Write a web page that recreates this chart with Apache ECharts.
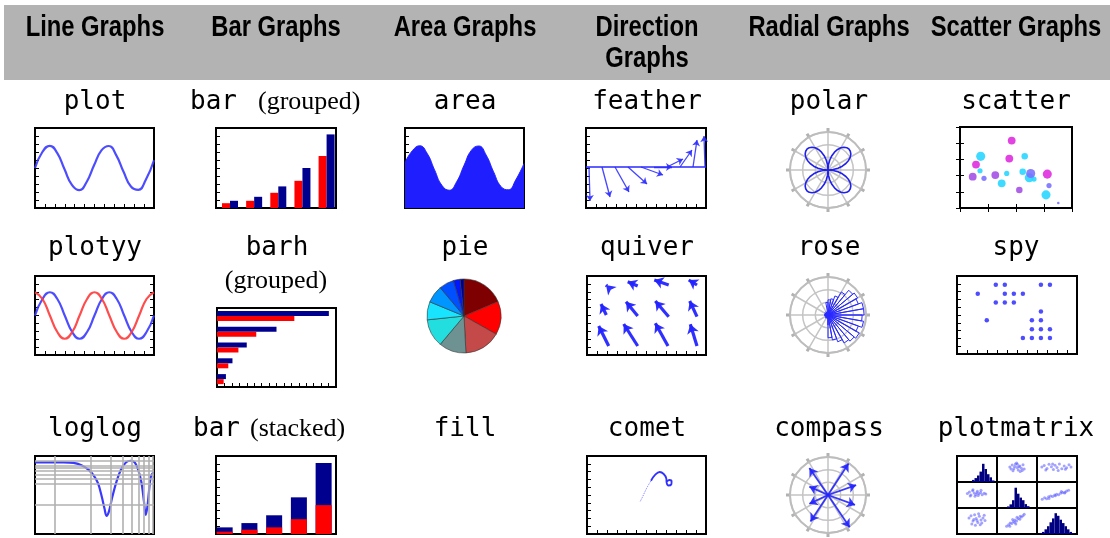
<!DOCTYPE html>
<html><head><meta charset="utf-8">
<script src="https://cdn.jsdelivr.net/npm/echarts@6/dist/echarts.min.js"></script>
<style>html,body{margin:0;padding:0;background:#fff}#c{width:1110px;height:538px}</style>
</head><body><div id="c"></div>
<script>
// ---------------- DATA ----------------
const headerNames = ['Line Graphs','Bar Graphs','Area Graphs','Direction','Radial Graphs','Scatter Graphs'];
const row1Labels = ['plot','bar','area','feather','polar','scatter'];
const row2Labels = ['plotyy','barh','pie','quiver','rose','spy'];
const row3Labels = ['loglog','bar','fill','comet','compass','plotmatrix'];

// plot / area (sine)
const sineX = [0,0.8,1.6,2.4,3.2,4.0,4.8,5.6,6.4,7.2,8.0,8.8,9.6,10.4,11.2,12.0,12.9];
const plotY = [0,0.72,1.0,0.68,-0.06,-0.76,-1.0,-0.63,0.12,0.79,0.99,0.58,-0.17,-0.83,-0.98,-0.54,0.35];
const areaY = [0.25,0.78,1.0,0.66,-0.08,-0.78,-1.0,-0.62,0.12,0.8,0.99,0.58,-0.17,-0.83,-0.98,-0.54,0.2];
// plotyy
const yyX = [0,0.79,1.57,2.36,3.14,3.93,4.71,5.5,6.28,7.07,7.85,8.64,9.42,10.21,11.0,11.78,12.57];
const yyBlue = [0,0.71,1,0.71,0,-0.71,-1,-0.71,0,0.71,1,0.71,0,-0.71,-1,-0.71,0];
const yyRed = [1,0.71,0,-0.71,-1,-0.71,0,0.71,1,0.71,0,-0.71,-1,-0.71,0,0.71,1];
// bars
const barGroups = [1,2,3,4,5];
const groupedRed = [0.6,0.9,1.9,3.4,6.5];
const groupedNavy = [0.9,1.4,2.7,5.0,9.2];
const barhCats = ['1','2','3','4','5'];
const barhRed = [0.56,0.95,1.8,3.3,6.5];
const barhNavy = [0.75,1.3,2.5,5.0,9.4];
const stackRed = [0.3,0.55,0.85,1.9,3.7];
const stackNavy = [0.55,0.85,1.55,2.8,5.4];
// feather
const featherX = [3,16,29,42,55,68,81,94,107,119];
const featherU = [1,8,14,19,22,18,16,12,4,-1];
const featherV = [-34,-30,-25,-17,-8,0,8,17,27,31];
// quiver
const quiverX = [20,50.7,81.7,110,19.3,50.7,81.7,110,21.7,50.7,81,110];
const quiverY = [69,69,70,70,40,39,38.3,38.3,9,9,9,9];
const quiverU = [-1,-10,-14.4,-8.3,-5.3,-11.7,-13.4,-7.3,-10,-14,-12.7,-6.7];
const quiverV = [1,4.3,5,5,11,14.3,15.7,15.7,20,22,22.7,21.7];
// pie
const pieValues = [67,52.5,57.5,43,44,28.5,27.5,23.5,10.5,6];
const pieColors = ['#7f0000','#ff0000','#c44a4a','#6e9292','#22dede','#18e4ff','#0096ff','#0050ff','#0018ff','#000090'];
// polar (four-leaf), one petal sampled every 5 degrees, repeated for the four petals
const petalR = [0,0.41,0.8,1.17,1.5,1.79,2.03,2.2,2.3,2.34,2.3,2.2,2.03,1.79,1.5,1.17,0.8,0.41,0];
const polarR = petalR.concat(petalR.slice(1), petalR.slice(1), petalR.slice(1));
const polarTheta = polarR.map((r, i) => i * 5);
// rose (10 degree bins starting at north, clockwise)
const roseR = [1.2,1.3,1.6,2.1,2.55,2.7,2.55,2.85,2.85,2.7,2.85,2.55,2.85,2.7,2.55,2.25,2.0,1.8,0.8,0.3,0.2,0.3,0.15,0.3,0.2,0.25,0.3,0.2,0.3,0.15,0.3,0.2,0.25,0.3,0.2,1.0];
// compass (u, v relative to outer ring)
const compassU = [0.54,-0.49,0.74,-0.49,0.71,-0.49,0.57,-0.46];
const compassV = [0.83,0.71,0.26,0.22,-0.26,-0.23,-0.85,-0.70];
// scatter [x, y, size]
const scMagenta = [[51.7,68.3,6],[49.3,50,6],[16,44,6],[87.3,34.3,7]];
const scCyan = [[20.7,52.3,7],[64.7,52.3,5],[20,37.7,4],[46.7,35,4],[62.7,36.7,5],[69.3,30.7,7],[74,29.3,4],[41.7,25,6],[86,13.3,7]];
const scPurple = [[12.7,31.7,6],[35.3,33.3,6],[59.3,18.3,5]];
const scViolet = [[24,30,4],[70.7,35,7],[89,22.7,4],[98.3,5,2]];
// spy
const spyCol = [4,5,9,10, 2,5,6,7, 4,5,6, 9, 3,8,9, 8,9,10, 7,8,9,10];
const spyRow = [1,1,1,1, 2,2,2,2, 3,3,3, 4, 5,5,5, 6,6,6, 7,7,7,7];
// loglog
const logX = [0.155,0.258,0.405,0.566,0.75,0.94,1.11,1.29,1.47,1.6,1.71,1.85,2.07,2.39,2.8,3.31,3.85,4.4,4.93,5.51,6.01,6.38,6.75,7.13,7.55,8.24];
const logY = [0.936,0.936,0.936,0.904,0.794,0.63,0.469,0.31,0.148,0.083,0.057,0.07,0.148,0.337,0.65,0.936,1.014,0.936,0.65,0.337,0.125,0.06,0.09,0.205,0.43,0.55];
const logGridX = [0.3,1,2,3,4,5,6,7,8];
const logGridY = [1,0.8,0.7,0.6,0.5,0.4,0.3,0.1];
// comet
const cometTailX = [53.3,55.5,57.3,59,60.7,62.3,64];
const cometTailY = [32.7,37,41,44.5,47.7,50.5,53.3];
const cometHeadX = [64,68.3,72.7,76.7,79.3,79.6,81.5,84.2,84.6,82.3,80];
const cometHeadY = [53.3,59.3,62,60,55.5,51.5,48.5,49.5,52.5,54,52.5];
// plotmatrix
const pmBins = [0,1,2,3,4,5,6,7,8,9,10,11,12,13,14,15];
const pmHist = [
  [0,0,0,0,0,0,0.08,0.15,0.25,0.4,0.7,0.5,0.3,0.18,0.06,0],
  [0,0,0,0,0.06,0.14,0.3,0.78,0.55,0.4,0.3,0.15,0.07,0,0,0],
  [0,0.04,0.08,0.18,0.3,0.45,0.6,0.8,0.7,0.55,0.42,0.3,0.18,0.08,0.03,0]
];
const pmX01 = [3.2,3.8,4.2,4.6,5.0,5.3,5.7,6.1,6.5,4.0,4.9,5.8,6.8,3.5,5.5,4.4,6.3,5.1];
const pmY01 = [5.8,6.5,5.1,6.9,5.6,4.6,6.2,5.3,6.6,4.3,7.3,4.0,5.0,5.0,5.9,6.0,4.4,6.8];
const pmX02 = [1.2,1.8,2.5,3.0,3.6,4.1,4.5,5.0,5.6,6.2,6.8,7.4,8.0,2.2,3.9,5.3,7.1,8.5];
const pmY02 = [5.8,6.3,5.2,6.8,5.9,4.8,6.4,5.6,6.9,5.1,6.2,5.5,6.6,4.6,6.9,4.4,4.9,5.8];
const pmX10 = [2.6,3.1,3.5,3.9,4.3,4.7,5.1,5.5,5.9,6.3,6.8,3.3,4.5,5.3,6.0,4.0,5.0,7.2];
const pmY10 = [5.6,6.2,5.0,6.6,5.8,5.2,6.4,5.5,6.0,5.1,5.7,4.6,4.5,4.8,6.8,7.0,5.9,5.4];
const pmX12 = [1.3,1.9,2.4,2.9,3.4,3.9,4.4,4.9,5.4,5.9,6.4,6.9,7.4,7.9,3.0,4.6,6.1,7.0];
const pmY12 = [3.4,3.9,3.6,4.3,4.6,4.4,5.0,5.3,5.1,5.7,6.0,5.8,6.5,6.8,3.7,4.7,6.3,6.1];
const pmX20 = [3.0,3.5,4.0,4.4,4.8,5.2,5.6,6.0,6.5,7.0,3.7,4.6,5.4,6.2,4.2,5.8,5.0,6.8];
const pmY20 = [6.2,7.0,5.0,7.4,6.0,4.4,6.8,5.4,6.2,5.2,3.8,3.4,7.8,4.2,5.6,3.6,5.2,7.2];
const pmX21 = [2.4,2.9,3.3,3.7,4.1,4.5,4.9,5.3,5.7,6.1,6.5,3.2,4.4,5.0,5.8,3.9,4.7,6.8];
const pmY21 = [3.0,3.6,4.2,4.0,4.8,5.4,5.0,6.0,5.7,6.5,7.0,3.0,4.4,6.4,6.8,5.6,3.8,7.6];

// ---------------- BUILD ----------------
const grids = [], xAxes = [], yAxes = [], series = [];
function tickAxis(gi, pos, n) {
  return {gridIndex: gi, type: 'value', position: pos, min: 0, max: n, interval: 1,
    axisLine: {show: false}, axisTick: {show: true, inside: true, length: 4, lineStyle: {color: '#000', width: 1}},
    axisLabel: {show: false}, splitLine: {show: false}};
}
function box(rect, xa, ya, o) {
  o = o || {};
  const gi = grids.length;
  grids.push({left: rect[0], top: rect[1], width: rect[2], height: rect[3], show: o.noFrame ? false : true,
    borderColor: '#000', borderWidth: o.bw || 2, backgroundColor: 'transparent'});
  const xi = xAxes.length, yi = yAxes.length;
  xAxes.push(Object.assign({gridIndex: gi, type: 'value', show: false, splitLine: {show: false}}, xa));
  yAxes.push(Object.assign({gridIndex: gi, type: 'value', show: false, splitLine: {show: false}}, ya));
  if (o.tb) xAxes.push(tickAxis(gi, 'bottom', o.tb));
  if (o.tt) xAxes.push(tickAxis(gi, 'top', o.tt));
  if (o.tl) yAxes.push(tickAxis(gi, 'left', o.tl));
  if (o.tr) yAxes.push(tickAxis(gi, 'right', o.tr));
  return {xAxisIndex: xi, yAxisIndex: yi};
}
const zip = (a, b) => a.map((v, i) => [v, b[i]]);
const blue = '#3a3aff';

// plot
let ax = box([35,128,119,80], {min: 0, max: 12.9}, {min: -1.8, max: 1.8}, {tb: 12, tl: 10});
series.push(Object.assign({type: 'line', data: zip(sineX, plotY), smooth: 0.5, showSymbol: false,
  lineStyle: {color: blue, width: 2.2, opacity: 0.9}}, ax));
// bar grouped
ax = box([216,128,120,80], {min: 0.42, max: 5.39}, {min: 0, max: 10}, {tl: 10});
series.push(Object.assign({type: 'bar', data: zip(barGroups, groupedRed), barWidth: 8, barGap: '0%', itemStyle: {color: '#ff0000'}}, ax));
series.push(Object.assign({type: 'bar', data: zip(barGroups, groupedNavy), barWidth: 8, barGap: '0%', itemStyle: {color: '#00008f'}}, ax));
// area
ax = box([405,128,119,80], {min: 0, max: 12.9}, {min: -1.8, max: 1.8}, {tb: 12, tl: 10});
series.push(Object.assign({type: 'line', data: zip(sineX, areaY), smooth: 0.5, showSymbol: false,
  lineStyle: {color: '#2222ff', width: 1}, areaStyle: {color: '#1e1eff', opacity: 1, origin: 'start'}}, ax));
// feather
ax = box([586,128,120,80], {min: 0, max: 120}, {min: -41, max: 39}, {tb: 12, tl: 10});
series.push(Object.assign({type: 'line', data: [], markLine: {silent: true, symbol: 'none', label: {show: false},
  lineStyle: {color: '#2a2aff', width: 1.5, type: 'solid'}, data: [{yAxis: 0}]}}, ax));
series.push(Object.assign({type: 'lines', coordinateSystem: 'cartesian2d', symbol: ['none', 'arrow'], symbolSize: 6,
  lineStyle: {color: '#3030ff', width: 1.3, opacity: 0.9},
  data: featherX.map((x, i) => ({coords: [[x, 0], [x + featherU[i], featherV[i]]]}))}, ax));
// scatter
ax = box([960,127,112,81], {min: 0, max: 112}, {min: 0, max: 82}, {tb: 4, tt: 4, tl: 5, tr: 5});
[[scMagenta, '#e02ee0'], [scCyan, '#2ad6ff'], [scPurple, '#a451e6'], [scViolet, '#7a72ff']].forEach(p => {
  series.push(Object.assign({type: 'scatter', data: p[0], symbolSize: d => d[2] * 1.3, itemStyle: {color: p[1], opacity: 0.9}}, ax));
});
// plotyy
ax = box([35,276,119,79], {min: 0, max: 12.57}, {min: -1.7, max: 1.7}, {tb: 12, tl: 10, tr: 10});
series.push(Object.assign({type: 'line', data: zip(yyX, yyBlue), smooth: 0.5, showSymbol: false, lineStyle: {color: blue, width: 2.2, opacity: 0.9}}, ax));
series.push(Object.assign({type: 'line', data: zip(yyX, yyRed), smooth: 0.5, showSymbol: false, lineStyle: {color: '#ff3a3a', width: 2.2, opacity: 0.9}}, ax));
// barh (category y axis)
ax = box([217,308,119,79], {min: 0, max: 10}, {type: 'category', data: barhCats, boundaryGap: true}, {tb: 16});
series.push(Object.assign({type: 'bar', data: barhNavy, barWidth: 5, barGap: '0%', itemStyle: {color: '#00008f'}}, ax));
series.push(Object.assign({type: 'bar', data: barhRed, barWidth: 5, barGap: '0%', itemStyle: {color: '#ff0000'}}, ax));
// pie
series.push({type: 'pie', center: [464, 316], radius: 37, startAngle: 90, clockwise: true, label: {show: false}, labelLine: {show: false},
  itemStyle: {borderColor: '#333', borderWidth: 0.6},
  data: pieValues.map((v, i) => ({value: v, itemStyle: {color: pieColors[i]}}))});
// quiver
ax = box([587,276,119,79], {min: 0, max: 119}, {min: 0, max: 79}, {tb: 12, tl: 10});
series.push(Object.assign({type: 'lines', coordinateSystem: 'cartesian2d', symbol: ['none', 'arrow'], symbolSize: 9,
  lineStyle: {color: '#2424ff', width: 3.2, opacity: 0.95},
  data: quiverX.map((x, i) => ({coords: [[x, quiverY[i]], [x + quiverU[i], quiverY[i] + quiverV[i]]]}))}, ax));
// spy
ax = box([957,276,120,78], {min: -0.3, max: 13}, {min: 0, max: 8.8, inverse: true}, {tb: 12, tl: 10});
series.push(Object.assign({type: 'scatter', data: zip(spyCol, spyRow), symbolSize: 4.5, itemStyle: {color: '#2020ff'}}, ax));
// loglog
ax = box([35,456,119,78], {type: 'log', min: 0.155, max: 8.44}, {type: 'log', min: 0.022, max: 1.3}, {});
series.push(Object.assign({type: 'line', data: [], markLine: {silent: true, symbol: 'none', label: {show: false},
  lineStyle: {color: '#b0b0b0', width: 1.6, type: 'solid'},
  data: logGridX.map(v => ({xAxis: v})).concat(logGridY.map(v => ({yAxis: v})))}}, ax));
series.push(Object.assign({type: 'line', data: zip(logX, logY), smooth: 0.35, showSymbol: false, lineStyle: {color: blue, width: 2.2}}, ax));
// bar stacked: navy segment sits on the red one, drawn as total then red overlay
const stackTotal = stackRed.map((v, i) => v + stackNavy[i]);
ax = box([216,456,120,78], {min: 0.65, max: 5.5}, {min: 0, max: 10}, {tl: 10});
series.push(Object.assign({type: 'bar', data: zip(barGroups, stackTotal), barWidth: 16, barGap: '-100%', itemStyle: {color: '#00008f'}}, ax));
series.push(Object.assign({type: 'bar', data: zip(barGroups, stackRed), barWidth: 16, barGap: '-100%', itemStyle: {color: '#ff0000'}}, ax));
// comet
ax = box([587,456,119,78], {min: 0, max: 119}, {min: 0, max: 78}, {tb: 12, tl: 10});
series.push(Object.assign({type: 'line', data: zip(cometTailX, cometTailY), showSymbol: false, lineStyle: {color: '#7a7aff', width: 1, type: 'dotted'}}, ax));
series.push(Object.assign({type: 'line', data: zip(cometHeadX, cometHeadY), smooth: 0.4, showSymbol: false, lineStyle: {color: '#3030ff', width: 1.8}}, ax));
// compass overlay (cartesian over polar ring)
ax = box([790,457,76,76], {min: -1, max: 1}, {min: -1, max: 1}, {noFrame: true});
series.push(Object.assign({type: 'lines', coordinateSystem: 'cartesian2d', symbol: ['none', 'arrow'], symbolSize: 8, z: 5,
  lineStyle: {color: '#2222ff', width: 1.8, opacity: 0.9},
  data: compassU.map((u, i) => ({coords: [[0, 0], [u, compassV[i]]]}))}, ax));
// plotmatrix 3x3
const pmXs = [957, 997, 1037, 1077], pmYs = [456, 482, 508, 534];
const pmScatter = {'0,1': [pmX01, pmY01], '0,2': [pmX02, pmY02], '1,0': [pmX10, pmY10], '1,2': [pmX12, pmY12], '2,0': [pmX20, pmY20], '2,1': [pmX21, pmY21]};
for (let r = 0; r < 3; r++) for (let c = 0; c < 3; c++) {
  const rect = [pmXs[c], pmYs[r], pmXs[c + 1] - pmXs[c], pmYs[r + 1] - pmYs[r]];
  if (r === c) {
    ax = box(rect, {type: 'category', data: pmBins, boundaryGap: true}, {min: 0, max: 1}, {bw: 2});
    series.push(Object.assign({type: 'bar', data: pmHist[r], barCategoryGap: '0%', itemStyle: {color: '#000080'}}, ax));
  } else {
    ax = box(rect, {min: 0, max: 10}, {min: 0, max: 10}, {bw: 2});
    const p = pmScatter[r + ',' + c];
    series.push(Object.assign({type: 'scatter', data: zip(p[0], p[1]), symbolSize: 3, itemStyle: {color: '#5a5aff', opacity: 0.55}}, ax));
  }
}
// polar components
const polarCenters = [[828, 170], [828, 315], [828, 495]];
const gray = '#c4c4c4';
const polar = polarCenters.map(c => ({center: c, radius: 38}));
const angleAxis = polarCenters.map((c, i) => ({polarIndex: i, type: 'value', min: 0, max: 360, interval: 30, startAngle: 90, clockwise: true,
  axisLine: {lineStyle: {color: '#bdbdbd', width: 2}}, axisTick: {show: true, length: 4, lineStyle: {color: '#b2b2b2', width: 3}},
  axisLabel: {show: false}, splitLine: {show: true, lineStyle: {color: gray, width: 1.5}}}));
const radiusAxis = polarCenters.map((c, i) => ({polarIndex: i, type: 'value', min: 0, max: 3, interval: 1,
  axisLine: {show: false}, axisTick: {show: false}, axisLabel: {show: false}, splitLine: {show: true, lineStyle: {color: gray, width: 1.5}}}));
series.push({type: 'line', coordinateSystem: 'polar', polarIndex: 0, data: zip(polarR, polarTheta), smooth: false, showSymbol: false,
  lineStyle: {color: '#2020ee', width: 1.6}});
const rosePts = [];
roseR.forEach((r, i) => { rosePts.push([0, i * 10], [r, i * 10], [r, i * 10 + 10], [0, i * 10 + 10]); });
series.push({type: 'line', coordinateSystem: 'polar', polarIndex: 1, data: rosePts, showSymbol: false,
  lineStyle: {color: '#2a2aff', width: 1}});

// text
const mono = "26px 'DejaVu Sans Mono', monospace";
const serif = "26px 'Liberation Serif', serif";
const head = "bold 29px 'Liberation Sans', Arial, sans-serif";
const colX = [95, 276, 465, 647, 829, 1016];
const els = [{type: 'rect', shape: {x: 4, y: 5, width: 1110, height: 75}, style: {fill: '#b3b3b3'}, z: -1}];
function txt(t, x, y, font, align, sx) {
  els.push({type: 'text', x: x, y: y, scaleX: sx || 1, style: {text: t, font: font, fill: '#000', textAlign: align || 'center', textVerticalAlign: 'middle', align: align || 'center', verticalAlign: 'middle'}});
}
headerNames.forEach((h, i) => txt(h, colX[i], 28, head, 'center', 0.82));
txt('Graphs', colX[3], 59, head, 'center', 0.82);
[row1Labels, row2Labels, row3Labels].forEach((row, ri) => {
  const y = [102, 248, 429][ri];
  row.forEach((t, i) => { if (i !== 1) txt(t, colX[i], y, mono); });
});
txt('bar', 190, 102, mono, 'left'); txt('(grouped)', 258, 102, serif, 'left');
txt('barh', 277, 248, mono); txt('(grouped)', 276, 281, serif);
txt('bar', 193, 429, mono, 'left'); txt('(stacked)', 250, 429, serif, 'left');

const chart = echarts.init(document.getElementById('c'), null, {renderer: 'canvas'});
chart.setOption({animation: false, grid: grids, xAxis: xAxes, yAxis: yAxes, polar: polar, angleAxis: angleAxis, radiusAxis: radiusAxis,
  series: series, graphic: {elements: els}});
</script></body></html>
